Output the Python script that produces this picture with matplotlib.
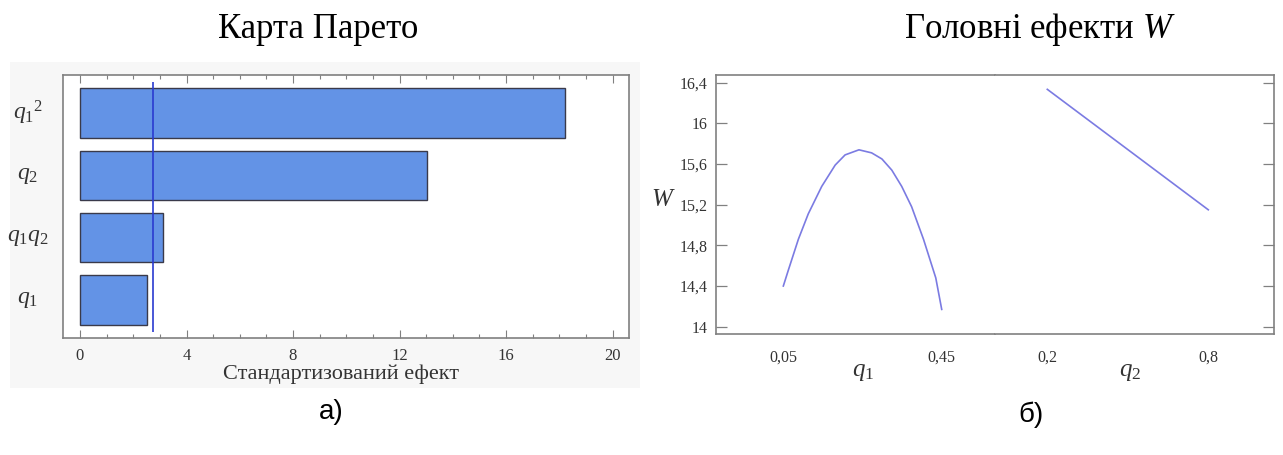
import matplotlib
matplotlib.use("Agg")
import matplotlib.pyplot as plt
import matplotlib.transforms as mtrans
from matplotlib.patches import Rectangle
from matplotlib.ticker import MultipleLocator, FixedLocator

plt.rcParams['font.family'] = ['Liberation Serif', 'DejaVu Serif']
plt.rcParams['mathtext.fontset'] = 'custom'
plt.rcParams['mathtext.rm'] = 'Liberation Serif'
plt.rcParams['mathtext.it'] = 'Liberation Serif:italic'

# ---------------- data ----------------
factor_labels = [r'$q_1$', r'$q_1q_2$', r'$q_2$', r'$q_1{}^2$']
factor_effects = [2.53, 3.10, 13.05, 18.23]
critical_effect = 2.76

pareto_xticks = [0, 4, 8, 12, 16, 20]

q1_vals = [0.05, 0.063, 0.088, 0.113, 0.147, 0.181, 0.206, 0.241, 0.273,
           0.299, 0.324, 0.349, 0.374, 0.404, 0.435, 0.45]
w_q1 = [14.40, 14.56, 14.86, 15.11, 15.38, 15.59, 15.69, 15.74, 15.71,
        15.65, 15.54, 15.38, 15.18, 14.86, 14.48, 14.17]
q2_vals = [0.2, 0.8]
w_q2 = [16.335, 15.15]

w_ticks = [14, 14.4, 14.8, 15.2, 15.6, 16, 16.4]
w_ticklabels = ['14', '14,4', '14,8', '15,2', '15,6', '16', '16,4']
q1_ticks = [0.05, 0.45]
q1_ticklabels = ['0,05', '0,45']
q2_ticks = [0.2, 0.8]
q2_ticklabels = ['0,2', '0,8']

# ---------------- figure ----------------
W, H = 1283, 455
fig = plt.figure(figsize=(W / 100, H / 100), dpi=100)

def box(x0, x1, y0, y1):
    return [x0 / W, 1 - y1 / H, (x1 - x0) / W, (y1 - y0) / H]

# faint grey panel behind the left chart
fig.patches.append(Rectangle((10 / W, 1 - 388 / H), 630 / W, 326 / H,
                             transform=fig.transFigure, facecolor='#f7f7f7',
                             edgecolor='none', zorder=-10))

spine_c = '#808080'
tick_c = '#333333'

# ---------- left: Pareto chart ----------
ax = fig.add_axes(box(63.3, 629.3, 75, 338))
ax.set_zorder(1)
ax.set_facecolor('white')
ypos = list(range(len(factor_effects)))
ax.barh(ypos, factor_effects, height=0.79, color='#6393e6',
        edgecolor='#3a3a4a', linewidth=1.0, zorder=2)
ax.vlines(critical_effect, -0.51, 3.5, color='#2a3bd0', linewidth=1.2, zorder=3)
ax.set_xlim(-0.627, 20.63)
ax.set_ylim(-0.61, 3.61)
ax.set_yticks([])
ax.xaxis.set_major_locator(FixedLocator(pareto_xticks))
ax.xaxis.set_minor_locator(MultipleLocator(1))
ax.tick_params(axis='x', which='both', direction='in', top=True, bottom=True,
               colors=spine_c, labelcolor=tick_c, labelsize=12, pad=7)
ax.tick_params(axis='x', which='major', length=6, width=0.8)
ax.tick_params(axis='x', which='minor', length=3, width=0.8)
for s in ax.spines.values():
    s.set_color(spine_c)
    s.set_linewidth(1.2)
ytr = mtrans.blended_transform_factory(fig.transFigure, ax.transData)
for y, lab in zip(ypos, factor_labels):
    fig.text(28 / W, y, lab, transform=ytr, ha='center', va='center',
             fontsize=17, color='#333333')
fig.text(341 / W, 1 - 374 / H, 'Стандартизований ефект', ha='center',
         va='center', fontsize=16, color='#333333')

# ---------- right: main effects ----------
axa = fig.add_axes(box(716, 994.5, 75, 334))
axb = fig.add_axes(box(994.5, 1274, 75, 334), sharey=axa)
line_c = '#7b7be2'
axa.plot(q1_vals, w_q1, color=line_c, linewidth=1.2)
axb.plot(q2_vals, w_q2, color=line_c, linewidth=1.2)
axa.set_xlim(-0.12, 0.5833)
axb.set_xlim(0.0032, 1.0449)
axa.set_ylim(13.928, 16.476)
axa.set_xticks(q1_ticks)
axa.set_xticklabels(q1_ticklabels)
axb.set_xticks(q2_ticks)
axb.set_xticklabels(q2_ticklabels)
axa.set_yticks(w_ticks)
axa.set_yticklabels(w_ticklabels)
axa.tick_params(axis='y', direction='in', length=8, width=0.9, colors=spine_c,
                labelcolor=tick_c, labelsize=11.5, pad=6)
axb.tick_params(axis='y', direction='in', length=8, width=0.9, colors=spine_c,
                left=False, right=True, labelleft=False, labelright=False)
for a in (axa, axb):
    a.tick_params(axis='x', length=0, labelcolor=tick_c, labelsize=11.5, pad=11)
    for s in a.spines.values():
        s.set_color(spine_c)
        s.set_linewidth(1.2)
axa.spines['right'].set_visible(False)
axb.spines['left'].set_visible(False)

fig.text(663 / W, 1 - 200 / H, r'$W$', ha='center', va='center', fontsize=18,
         color='#333333')
fig.text(863 / W, 1 - 372 / H, r'$q_1$', ha='center', va='center', fontsize=18,
         color='#333333')
fig.text(1130 / W, 1 - 372 / H, r'$q_2$', ha='center', va='center', fontsize=18,
         color='#333333')

# ---------- titles and panel labels ----------
fig.text(318 / W, 1 - 30 / H, 'Карта Парето', ha='center', va='center',
         fontsize=25)
fig.text(1040 / W, 1 - 30 / H, r'Головні ефекти $W$', ha='center',
         va='center', fontsize=25)
fig.text(331 / W, 1 - 412 / H, 'а)', ha='center', va='center', fontsize=20,
         family=['Liberation Sans'])
fig.text(1031 / W, 1 - 415 / H, 'б)', ha='center', va='center', fontsize=20,
         family=['Liberation Sans'])

fig.savefig('out.png', dpi=100)
